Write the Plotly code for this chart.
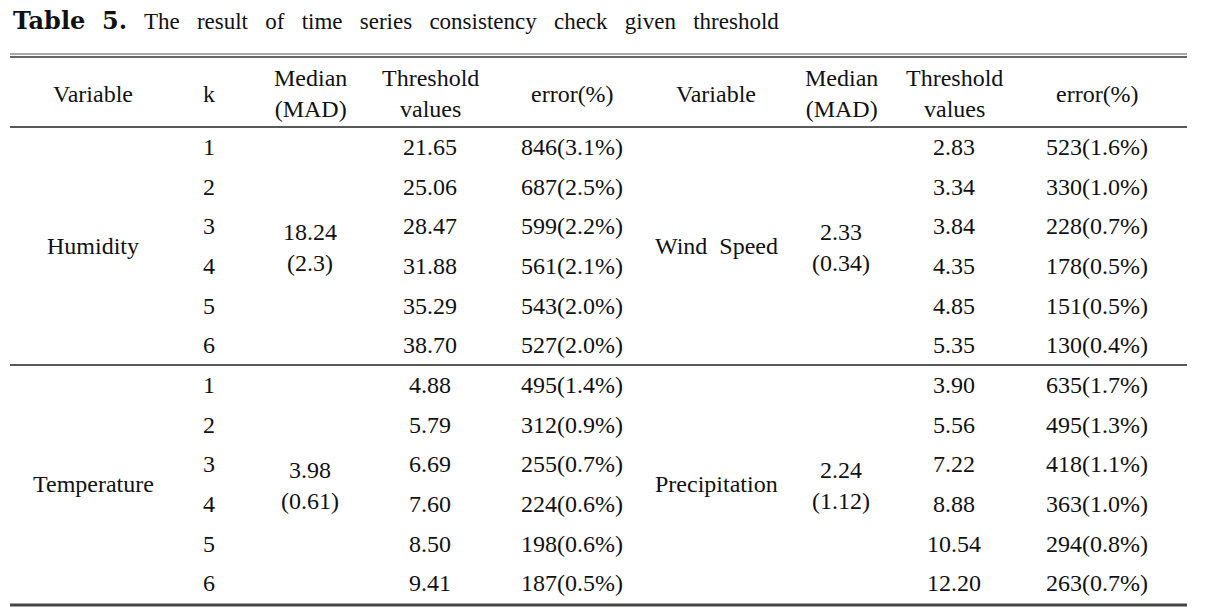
import plotly.graph_objects as go

# ---- data ----
title_bold = "Table 5."
title_rest = "The result of time series consistency check given threshold"
header_cols = ["Variable", "k", "Median<br>(MAD)", "Threshold<br>values", "error(%)",
               "Variable", "Median<br>(MAD)", "Threshold<br>values", "error(%)"]
k_values = [1, 2, 3, 4, 5, 6]

left_vars = ["Humidity", "Temperature"]
left_median = ["18.24<br>(2.3)", "3.98<br>(0.61)"]
left_thresh = [["21.65", "25.06", "28.47", "31.88", "35.29", "38.70"],
               ["4.88", "5.79", "6.69", "7.60", "8.50", "9.41"]]
left_error = [["846(3.1%)", "687(2.5%)", "599(2.2%)", "561(2.1%)", "543(2.0%)", "527(2.0%)"],
              ["495(1.4%)", "312(0.9%)", "255(0.7%)", "224(0.6%)", "198(0.6%)", "187(0.5%)"]]

right_vars = ["Wind  Speed", "Precipitation"]
right_median = ["2.33<br>(0.34)", "2.24<br>(1.12)"]
right_thresh = [["2.83", "3.34", "3.84", "4.35", "4.85", "5.35"],
                ["3.90", "5.56", "7.22", "8.88", "10.54", "12.20"]]
right_error = [["523(1.6%)", "330(1.0%)", "228(0.7%)", "178(0.5%)", "151(0.5%)", "130(0.4%)"],
               ["635(1.7%)", "495(1.3%)", "418(1.1%)", "363(1.0%)", "294(0.8%)", "263(0.7%)"]]

# ---- layout geometry (page pixels) ----
W, H = 1207, 608
col_x = [93, 209, 310, 430, 572, 716, 841, 954, 1097]
x_left, x_right = 10, 1187
header_top, header_bot = 58, 127
group_tops = [127, 365]
row_h = (365 - 127) / 6

FONT = "Liberation Serif"
FS = 24

fig = go.Figure()
ann = []

def add(x, y, text, size=FS, xanchor="center"):
    ann.append(dict(x=x, y=y, xref="x", yref="y", text=text, showarrow=False,
                    xanchor=xanchor, yanchor="middle",
                    font=dict(family=FONT, size=size, color="#111")))

# title
title_text = ("<span style='font-family:DejaVu Serif;font-weight:bold;font-size:24px'>"
              + title_bold.replace(" ", "  ") + "</span>   "
              + title_rest.replace(" ", "   "))
add(11, 20, title_text, size=23, xanchor="left")

# header
hy = (header_top + header_bot) / 2 + 1
for cx, t in zip(col_x, header_cols):
    add(cx, hy, t)

# body
for g in range(2):
    top = group_tops[g]
    bot = top + 6 * row_h
    mid = (top + bot) / 2
    add(col_x[0], mid, left_vars[g])
    add(col_x[2], mid + 1, left_median[g])
    add(col_x[5], mid, right_vars[g])
    add(col_x[6], mid + 1, right_median[g])
    for i, k in enumerate(k_values):
        yc = top + (i + 0.5) * row_h
        add(col_x[1], yc, str(k))
        add(col_x[3], yc, left_thresh[g][i])
        add(col_x[4], yc, left_error[g][i])
        add(col_x[7], yc, right_thresh[g][i])
        add(col_x[8], yc, right_error[g][i])

shapes = []
def hline(y, width=1, color="#333"):
    shapes.append(dict(type="line", xref="x", yref="y", x0=x_left, x1=x_right, y0=y, y1=y,
                       line=dict(color=color, width=width)))

hline(54, 1.2, "#555")
hline(57, 1.5, "#333")
hline(header_bot, 1.5, "#222")
hline(365, 1.5, "#222")
hline(605, 3, "#444")

fig.update_layout(
    width=W, height=H,
    margin=dict(l=0, r=0, t=0, b=0),
    paper_bgcolor="white", plot_bgcolor="white",
    xaxis=dict(range=[0, W], visible=False, fixedrange=True),
    yaxis=dict(range=[H, 0], visible=False, fixedrange=True),
    annotations=ann, shapes=shapes, showlegend=False,
)

fig.write_html("out.html",
               config={"displayModeBar": False, "staticPlot": True},
               post_script="document.body.style.margin='0';document.body.style.overflow='hidden';")
